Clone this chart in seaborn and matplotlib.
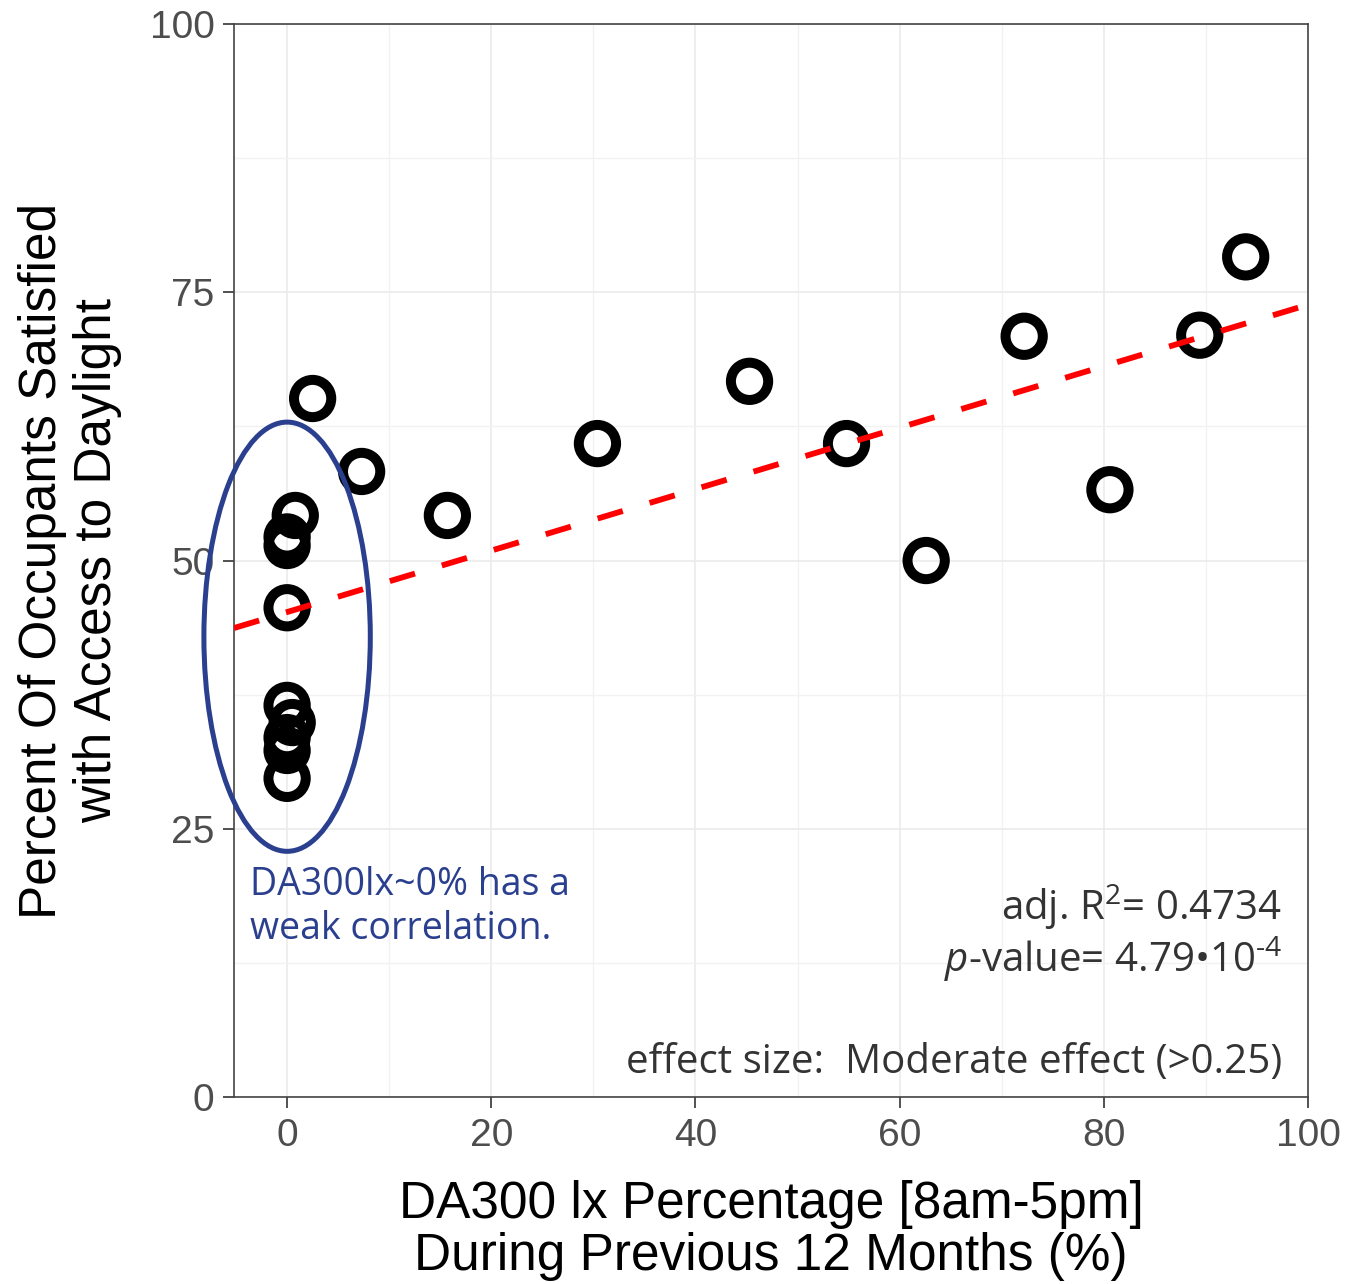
import matplotlib
matplotlib.use("Agg")
import matplotlib.pyplot as plt
from matplotlib.patches import Ellipse
from matplotlib.ticker import MultipleLocator
import seaborn as sns
import pandas as pd

# DA300 lx percentage vs. percent of occupants satisfied with daylight access
da300 = [2.5, 7.3, 0.8, 0.0, 0.0, 0.0, 0.0, 0.5, 0.0, 0.0, 0.0,
         15.7, 30.4, 45.3, 54.8, 62.6, 72.2, 80.6, 89.4, 93.9]
satisfied = [65.1, 58.3, 54.2, 52.2, 51.4, 45.6, 36.5, 34.9, 33.5, 32.3, 29.7,
             54.2, 60.9, 66.7, 60.9, 50.0, 70.9, 56.6, 71.0, 78.3]
x_ticks = [0, 20, 40, 60, 80, 100]
y_ticks = [0, 25, 50, 75, 100]

df = pd.DataFrame({"da300": da300, "satisfied": satisfied})

sns.set_style("white")
plt.rcParams["font.family"] = ["Liberation Sans", "DejaVu Sans"]
plt.rcParams["mathtext.fontset"] = "custom"
plt.rcParams["mathtext.rm"] = "Open Sans"
plt.rcParams["mathtext.it"] = "Open Sans:italic"

fig = plt.figure(figsize=(13.48, 12.84), dpi=100)
ax = fig.add_axes([0.1736, 0.1456, 0.7967, 0.8357])
ax.set_xlim(-5.2, 100)
ax.set_ylim(0, 100)

# grid like ggplot theme_bw
ax.xaxis.set_major_locator(MultipleLocator(20))
ax.xaxis.set_minor_locator(MultipleLocator(10))
ax.yaxis.set_major_locator(MultipleLocator(25))
ax.yaxis.set_minor_locator(MultipleLocator(12.5))
ax.grid(which="major", color="#EBEBEB", lw=1.2, zorder=0)
ax.grid(which="minor", color="#F2F2F2", lw=1.0, zorder=0)
ax.set_axisbelow(True)

sns.scatterplot(data=df, x="da300", y="satisfied", ax=ax, marker="o", s=720,
                facecolor="none", edgecolor="black", linewidth=7.2, zorder=3)

sns.regplot(data=df, x="da300", y="satisfied", ax=ax, scatter=False, ci=None,
            truncate=False,
            line_kws=dict(color="#FF0000", lw=4.2, linestyle=(0, (4.5, 4.8)), zorder=4))

ax.set_xticks(x_ticks)
ax.set_yticks(y_ticks)
ax.tick_params(axis="both", which="major", labelsize=28, labelcolor="#4D4D4D",
               color="#333333", length=8, width=1.2, direction="out",
               bottom=True, left=True)
ax.tick_params(axis="x", which="major", pad=7)
ax.tick_params(axis="y", which="major", pad=6)
ax.tick_params(which="minor", length=0)
for s in ax.spines.values():
    s.set_color("#444444")
    s.set_linewidth(1.2)

ax.set_xlabel("DA300 lx Percentage [8am-5pm]\nDuring Previous 12 Months (%)",
              fontsize=37, color="black", labelpad=19, linespacing=1.08)
ax.set_ylabel("Percent Of Occupants Satisfied\nwith Access to Daylight",
              fontsize=37, color="black", labelpad=20, linespacing=1.15)

# highlight of the DA300 ~ 0% cluster
ax.add_patch(Ellipse((0, 42.9), 16.3, 40.0, fill=False, edgecolor="#2B3F8F",
                     lw=3.6, zorder=5, clip_on=False))
ax.text(-3.6, 17.7, "DA300lx~0% has a\nweak correlation.", fontsize=27,
        color="#2B3F8F", family="Open Sans", ha="left", va="center",
        linespacing=1.2)

ax.text(0.976, 0.165, "adj. R$^2$= 0.4734", transform=ax.transAxes, fontsize=29,
        color="#333333", family="Open Sans", ha="right", va="baseline")
ax.text(0.976, 0.1165, r"$p$-value= 4.79•10$^{\text{-4}}$", transform=ax.transAxes,
        fontsize=29, color="#333333", family="Open Sans", ha="right", va="baseline")
ax.text(0.976, 0.022, "effect size:  Moderate effect (>0.25)", transform=ax.transAxes,
        fontsize=29, color="#333333", family="Open Sans", ha="right", va="baseline")

fig.savefig("out.png", dpi=100)
